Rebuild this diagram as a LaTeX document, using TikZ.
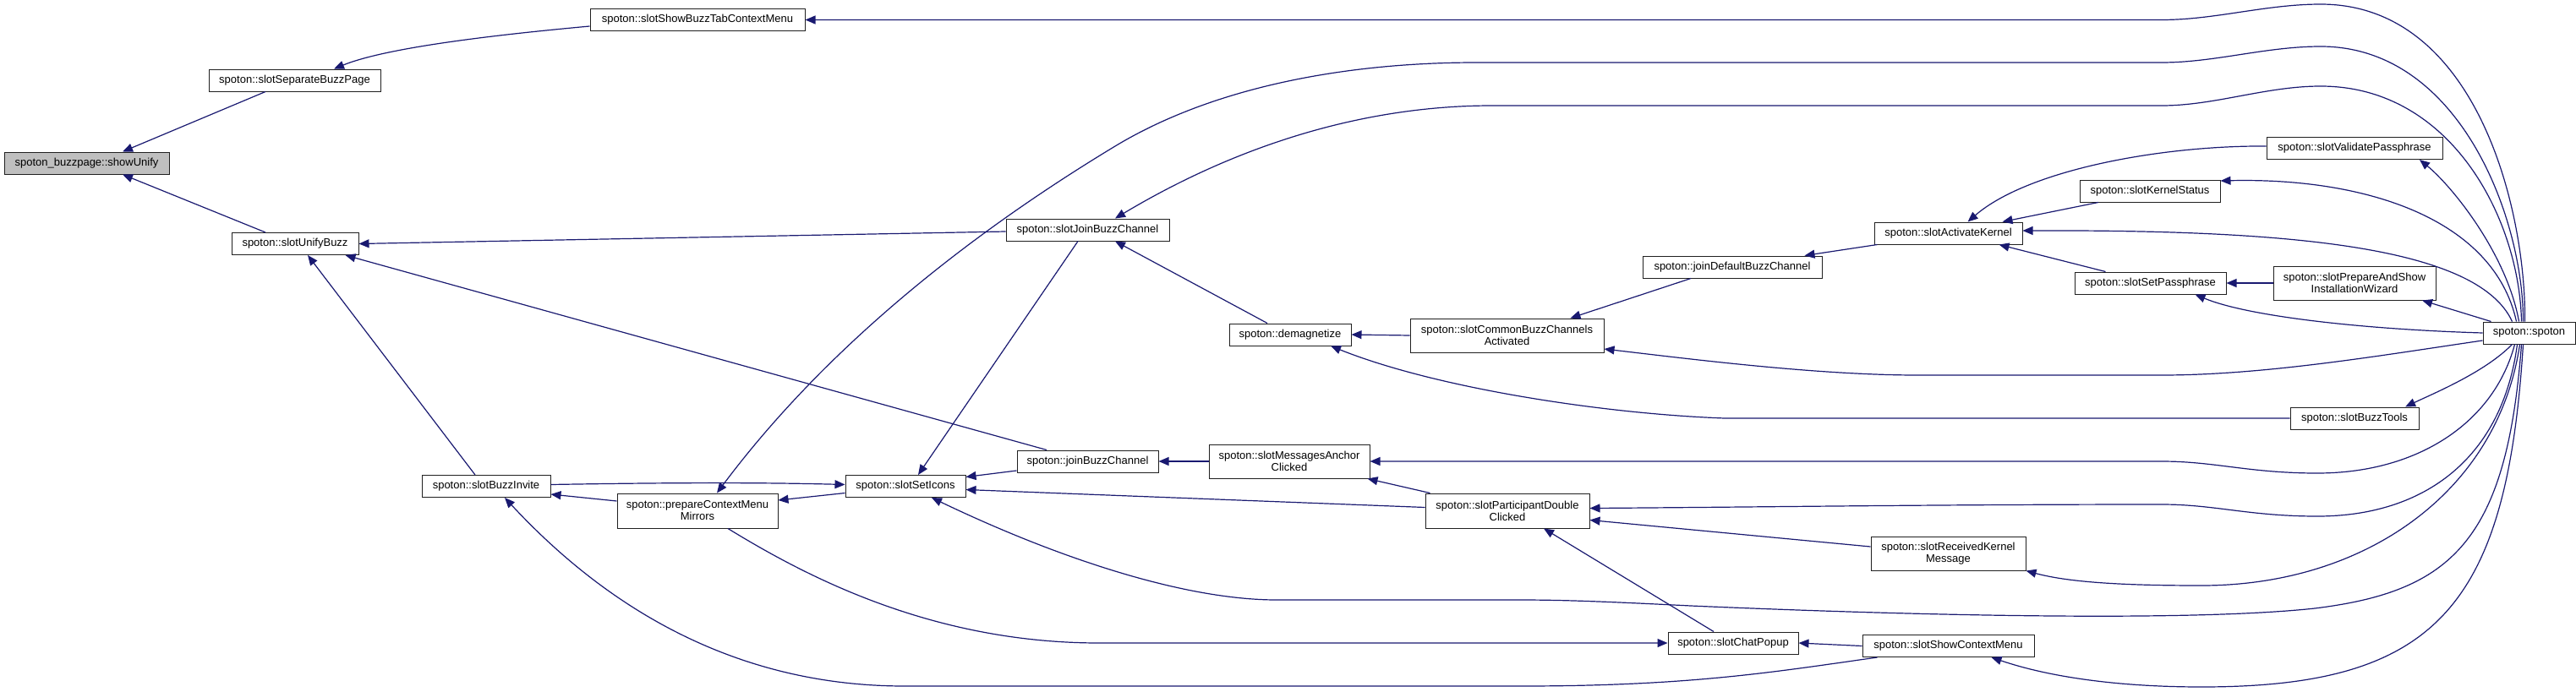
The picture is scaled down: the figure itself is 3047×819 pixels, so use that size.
\documentclass[tikz,border=0pt]{standalone}
\usepackage{fontspec}
\setmainfont{Liberation Sans}
\usetikzlibrary{arrows.meta,calc}
\definecolor{edgecol}{HTML}{191970}
\definecolor{rootfill}{HTML}{BFBFBF}
\definecolor{boxline}{HTML}{202020}
\tikzset{
  fn/.style={draw=boxline, line width=1pt, fill=white, rectangle, inner sep=0pt,
    minimum height=26pt, align=center, font=\fontsize{13}{14}\selectfont},
  fntwo/.style={fn, minimum height=41pt},
  rootnode/.style={fn, fill=rootfill},
  edge/.style={draw=edgecol, line width=1.2pt, -{Triangle[length=12pt,width=10pt]}},
}
\begin{document}
\begin{tikzpicture}[x=1pt,y=-1pt]
\useasboundingbox (0,0) rectangle (3047,819);
% nodes
\node[rootnode, minimum width=195pt] (showUnify) at (102.5,193) {spoton\_buzzpage::showUnify};
\node[fn, minimum width=254pt] (sSBTCM) at (825,23.5) {spoton::slotShowBuzzTabContextMenu};
\node[fn, minimum width=203pt] (sSBP) at (348.5,95) {spoton::slotSeparateBuzzPage};
\node[fn, minimum width=150pt] (sUB) at (349,288.5) {spoton::slotUnifyBuzz};
\node[fn, minimum width=152pt] (sBI) at (575,575.5) {spoton::slotBuzzInvite};
\node[fntwo, minimum width=190pt] (pCMM) at (825,604.5) {spoton::prepareContextMenu\\Mirrors};
\node[fn, minimum width=193pt] (sJBC) at (1286.5,272) {spoton::slotJoinBuzzChannel};
\node[fn, minimum width=167pt] (jBC) at (1286.5,546) {spoton::joinBuzzChannel};
\node[fn, minimum width=142pt] (sSI) at (1071,575.5) {spoton::slotSetIcons};
\node[fn, minimum width=144pt] (demag) at (1526,396) {spoton::demagnetize};
\node[fntwo, minimum width=229pt, minimum height=40pt] (sCBCA) at (1782.5,397) {spoton::slotCommonBuzzChannels\\Activated};
\node[fntwo, minimum width=190pt, minimum height=40pt] (sMAC) at (1525,546) {spoton::slotMessagesAnchor\\Clicked};
\node[fntwo, minimum width=194pt] (sPDC) at (1783,604.5) {spoton::slotParticipantDouble\\Clicked};
\node[fn, minimum width=154pt] (sCP) at (2050,761) {spoton::slotChatPopup};
\node[fn, minimum width=212pt] (jDBC) at (2049,316) {spoton::joinDefaultBuzzChannel};
\node[fn, minimum width=175pt] (sAK) at (2304.5,276) {spoton::slotActivateKernel};
\node[fn, minimum width=208pt] (sVP) at (2785,175.5) {spoton::slotValidatePassphrase};
\node[fn, minimum width=166pt] (sKS) at (2543,226) {spoton::slotKernelStatus};
\node[fn, minimum width=179pt] (sSP) at (2543.5,335) {spoton::slotSetPassphrase};
\node[fntwo, minimum width=192pt, minimum height=40pt] (sPASIW) at (2785,335) {spoton::slotPrepareAndShow\\InstallationWizard};
\node[fn, minimum width=109pt] (spoton) at (2991.5,394) {spoton::spoton};
\node[fn, minimum width=152pt] (sBT) at (2785,495) {spoton::slotBuzzTools};
\node[fntwo, minimum width=183pt, minimum height=40pt] (sRKM) at (2304.5,655) {spoton::slotReceivedKernel\\Message};
\node[fn, minimum width=203pt] (sSCM) at (2304.5,764.5) {spoton::slotShowContextMenu};

% edges
\draw[edge] ($(sSBP.south)+(-34.5,0)$) -- ($(showUnify.north)+(42.5,0)$);
\draw[edge] ($(sUB.north)+(-35,0)$) -- ($(showUnify.south)+(42.5,0)$);
\draw[edge] ($(sSBTCM.west)+(0,7.5)$) .. controls (600,40) and (460,55) .. ($(sSBP.north)+(46.5,0)$);
\draw[edge] ($(spoton.north)+(-5,0)$) .. controls (2988,250) and (2930,5) .. (2745,5)
   .. controls (2680,5) and (2620,23.5) .. (2557,23.5) -- (sSBTCM.east);
\draw[edge] ($(spoton.north)+(-7,0)$) .. controls (2985,260) and (2910,55) .. (2745,55)
   .. controls (2680,55) and (2620,74) .. (2557,74) -- (1746,74)
   .. controls (1600,74) and (1440,100) .. (1319,173)
   .. controls (1200,245) and (1000,380) .. ($(pCMM.north)+(23,0)$);
\draw[edge] ($(spoton.north)+(-9,0)$) .. controls (2980,260) and (2900,102) .. (2745,102)
   .. controls (2680,102) and (2620,125) .. (2557,125) -- (1765,125)
   .. controls (1600,125) and (1450,180) .. ($(sJBC.north)+(32.5,0)$);
\draw[edge] ($(spoton.north)+(-12,0)$) .. controls (2965,300) and (2900,220) .. ($(sVP.south)+(77,0)$);
\draw[edge] ($(spoton.north)+(-15,0)$) .. controls (2950,260) and (2800,210) .. ($(sKS.east)+(0,-12)$);
\draw[edge] ($(spoton.north)+(-20,0)$) .. controls (2930,290) and (2700,272) .. ($(sAK.east)+(0,-3)$);
\draw[edge] ($(spoton.north)+(-45,0)$) -- ($(sPASIW.south)+(80,0)$);
\draw[edge] (spoton.west) .. controls (2800,390) and (2660,375) .. ($(sSP.south)+(53,0)$);
\draw[edge] ($(sSP.north)+(-53,0)$) -- ($(sAK.south)+(60,0)$);
\draw[edge] (sPASIW.west) -- (sSP.east);
\draw[edge] ($(sKS.south)+(-61,0)$) -- ($(sAK.north)+(64,0)$);
\draw[edge] ($(sVP.west)+(0,-2.5)$) .. controls (2560,172) and (2400,200) .. ($(sAK.north)+(23,0)$);
\draw[edge] ($(sAK.south west)+(4,0)$) -- ($(jDBC.north east)+(-21,0)$);
\draw[edge] ($(jDBC.south)+(-49,0)$) -- ($(sCBCA.north)+(75,0)$);
\draw[edge] (sCBCA.west) -- (demag.east);
\draw[edge] ($(demag.north)+(-27,0)$) -- ($(sJBC.south)+(32.5,0)$);
\draw[edge] ($(sJBC.south)+(-11.5,0)$) -- ($(sSI.north)+(15,0)$);
\draw[edge] ($(sJBC.west)+(0,2)$) -- (sUB.east);
\draw[edge] ($(jBC.north)+(-48.5,0)$) -- ($(sUB.south east)+(-16,0)$);
\draw[edge] ($(sBI.north)+(-13,0)$) -- ($(sUB.south)+(15,0)$);
\draw[edge] ($(pCMM.west)+(0,-11.5)$) -- ($(sBI.east)+(0,9.5)$);
\draw[edge] ($(sBI.east)+(0,-2)$) .. controls (800,571) and (900,571) .. ($(sSI.west)+(0,-2)$);
\draw[edge] ($(sSI.west)+(0,8)$) -- ($(pCMM.east)+(0,-12.5)$);
\draw[edge] ($(jBC.west)+(0,11)$) -- ($(sSI.east)+(0,-11)$);
\draw[edge] ($(sPDC.west)+(0,-4)$) -- ($(sSI.east)+(0,4)$);
\draw[edge] (sMAC.west) -- (jBC.east);
\draw[edge] ($(sPDC.north west)+(6,0)$) -- ($(sMAC.south east)+(-3,0)$);
\draw[edge] ($(sCP.north)+(-23,0)$) -- ($(sPDC.south)+(43,0)$);
\draw[edge] (sSCM.west) -- (sCP.east);
\draw[edge] ($(sRKM.west)+(0,-8)$) -- ($(sPDC.east)+(0,11)$);
\draw[edge] ($(spoton.south)+(-14,0)$) .. controls (2960,540) and (2870,611) .. (2741,611)
   .. controls (2660,611) and (2620,597) .. (2557,597)
   .. controls (2300,597) and (2100,600) .. ($(sPDC.east)+(0,-3)$);
\draw[edge] ($(spoton.south)+(-17,0)$) .. controls (2950,500) and (2860,560) .. (2741,560)
   .. controls (2660,560) and (2620,546) .. (2557,546) -- (sMAC.east);
\draw[edge] ($(spoton.west)+(0,9)$) .. controls (2820,420) and (2680,444) .. (2557,444) -- (2268,444)
   .. controls (2150,444) and (2000,425) .. ($(sCBCA.east)+(0,16)$);
\draw[edge] ($(spoton.south)+(-20,0)$) .. controls (2940,440) and (2880,465) .. ($(sBT.north)+(60,0)$);
\draw[edge] (sBT.west) -- (2040,495) .. controls (1900,490) and (1700,460) .. ($(demag.south)+(48,0)$);
\draw[edge] ($(spoton.south)+(-11,0)$) .. controls (2955,580) and (2800,693) .. (2604,693)
   .. controls (2520,693) and (2450,690) .. (sRKM.south east);
\draw[edge] ($(spoton.south)+(-9,0)$) .. controls (2965,640) and (2900,700) .. (2738,720)
   .. controls (2600,735) and (2300,730) .. (2000,717)
   .. controls (1900,712) and (1850,710) .. (1797,710) -- (1510,710)
   .. controls (1400,710) and (1250,660) .. ($(sSI.south)+(31,0)$);
\draw[edge] ($(spoton.south)+(-7,0)$) .. controls (2965,720) and (2880,813) .. (2604,813)
   .. controls (2500,813) and (2420,800) .. ($(sSCM.south)+(51,0)$);
\draw[edge] ($(pCMM.south)+(36,0)$) .. controls (950,680) and (1100,761) .. (1300,761) -- (sCP.west);
\draw[edge] ($(sSCM.south west)+(18,0)$) .. controls (2100,795) and (2000,812) .. (1800,812) -- (1070,812)
   .. controls (850,812) and (700,700) .. ($(sBI.south)+(22,0)$);
\end{tikzpicture}
\end{document}
